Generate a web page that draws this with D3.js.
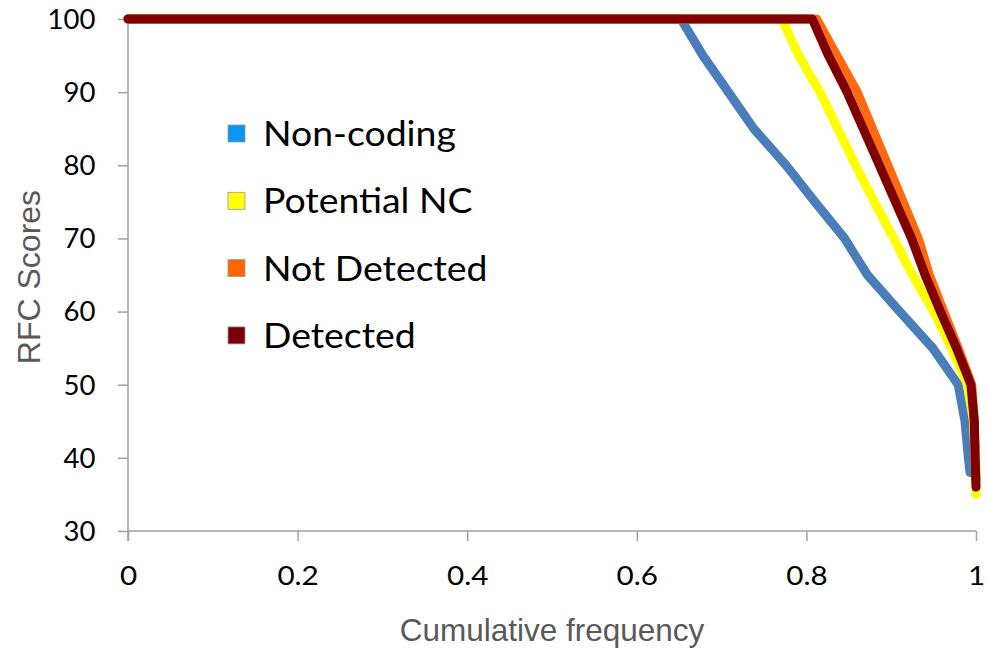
<!DOCTYPE html>
<html>
<head>
<meta charset="utf-8">
<script src="https://cdn.jsdelivr.net/npm/d3@7"></script>
<style>
    body { margin: 0; background: #fff; }
    svg { display: block; }
</style>
</head>
<body>
<svg id="chart" width="988" height="648"></svg>
<script>
// values
const seriesNames = ["Non-coding", "Potential NC", "Not Detected", "Detected"];
const lineColors = ["#4a7ebb", "#ffff00", "#ff6a10", "#800000"];
const legendColors = ["#0a96f5", "#ffff00", "#ff6600", "#7a0000"];

const freqNonCoding = [0, 0.652, 0.678, 0.708, 0.738, 0.776, 0.81, 0.845, 0.872, 0.91, 0.949, 0.979, 0.987, 0.991, 0.993];
const scoreNonCoding = [100, 100, 95, 90, 85, 80, 75, 70, 65, 60, 55, 50, 45, 40, 38];

const freqPotentialNC = [0, 0.771, 0.791, 0.816, 0.837, 0.858, 0.88, 0.903, 0.925, 0.95, 0.971, 0.99, 0.997, 0.999, 1.0];
const scorePotentialNC = [100, 100, 95, 90, 85, 80, 75, 70, 65, 60, 55, 50, 45, 40, 35];

const freqNotDetected = [0, 0.812, 0.836, 0.86, 0.878, 0.896, 0.914, 0.932, 0.945, 0.962, 0.979, 0.995, 0.998, 0.999, 1.0];
const scoreNotDetected = [100, 100, 95, 90, 85, 80, 75, 70, 65, 60, 55, 50, 45, 40, 37];

const freqDetected = [0, 0.807, 0.826, 0.848, 0.867, 0.886, 0.905, 0.924, 0.94, 0.958, 0.977, 0.994, 0.998, 0.999, 1.0];
const scoreDetected = [100, 100, 95, 90, 85, 80, 75, 70, 65, 60, 55, 50, 45, 40, 36];

const xTicks = [0, 0.2, 0.4, 0.6, 0.8, 1];
const yTicks = [30, 40, 50, 60, 70, 80, 90, 100];

const series = [
    d3.zip(freqNonCoding, scoreNonCoding),
    d3.zip(freqPotentialNC, scorePotentialNC),
    d3.zip(freqNotDetected, scoreNotDetected),
    d3.zip(freqDetected, scoreDetected)
];

const svg = d3.select("#chart");
const x = d3.scaleLinear().domain([0, 1]).range([128, 976]);
const y = d3.scaleLinear().domain([30, 100]).range([531, 19]);

// y axis
let gy = svg.append("g").attr("transform", "translate(128,0)")
    .call(d3.axisLeft(y).tickValues(yTicks).tickSize(10).tickPadding(22).tickFormat(d3.format("d")));
gy.select(".domain").attr("stroke", "#a0a0a0").attr("stroke-width", 1.5).attr("d", "M0,19V541");
gy.selectAll(".tick line").attr("stroke", "#a0a0a0").attr("stroke-width", 1.5);
gy.selectAll(".tick text").attr("fill", "#000").style("font-family", "Lato, 'Open Sans', sans-serif")
    .style("font-size", "26px").attr("dy", "0.36em")
    .attr("transform", "translate(-22,0) scale(1.06,1) translate(22,0)");

// x axis
let gx = svg.append("g").attr("transform", "translate(0,531)")
    .call(d3.axisBottom(x).tickValues(xTicks).tickSize(10).tickPadding(26).tickFormat(d => d === 0 || d === 1 ? d : d3.format(".1f")(d)));
gx.select(".domain").attr("stroke", "#a0a0a0").attr("stroke-width", 1.5).attr("d", "M128,0H976");
gx.selectAll(".tick line").attr("stroke", "#a0a0a0").attr("stroke-width", 1.5);
gx.selectAll(".tick text").attr("fill", "#000").style("font-family", "Lato, 'Open Sans', sans-serif")
    .style("font-size", "26px").attr("transform", "scale(1.14,1)");

// axis titles
svg.append("text")
    .attr("x", 552).attr("y", 641)
    .attr("text-anchor", "middle")
    .style("font-family", "'Liberation Sans', Arial, sans-serif")
    .style("font-size", "31.5px")
    .attr("fill", "#595959")
    .text("Cumulative frequency");

svg.append("text")
    .attr("transform", "translate(40,277) rotate(-90)")
    .attr("text-anchor", "middle")
    .style("font-family", "'Liberation Sans', Arial, sans-serif")
    .style("font-size", "32px")
    .attr("fill", "#595959")
    .text("RFC Scores");

// series lines
const line = d3.line().x(d => x(d[0])).y(d => y(d[1]));
svg.append("g").selectAll("path")
    .data(series)
    .enter()
    .append("path")
    .attr("d", line)
    .attr("fill", "none")
    .attr("stroke", (d, i) => lineColors[i])
    .attr("stroke-width", 9)
    .attr("stroke-linejoin", "round")
    .attr("stroke-linecap", "round");

// legend
let legend = svg.append("g").selectAll("g")
    .data(seriesNames)
    .enter()
    .append("g")
    .attr("transform", (d, i) => `translate(228,${134 + i * 67.3})`);

legend.append("rect")
    .attr("x", 0).attr("y", -9)
    .attr("width", 17).attr("height", 17)
    .attr("fill", (d, i) => legendColors[i])
    .attr("stroke", "#9a9a9a")
    .attr("stroke-width", 0.8);

legend.append("text")
    .attr("transform", "translate(35,0) scale(1.1,1)")
    .attr("dy", "0.35em")
    .style("font-family", "Lato, 'Open Sans', sans-serif")
    .style("font-size", "34px")
    .attr("fill", "#000")
    .text(d => d);
</script>
</body>
</html>
